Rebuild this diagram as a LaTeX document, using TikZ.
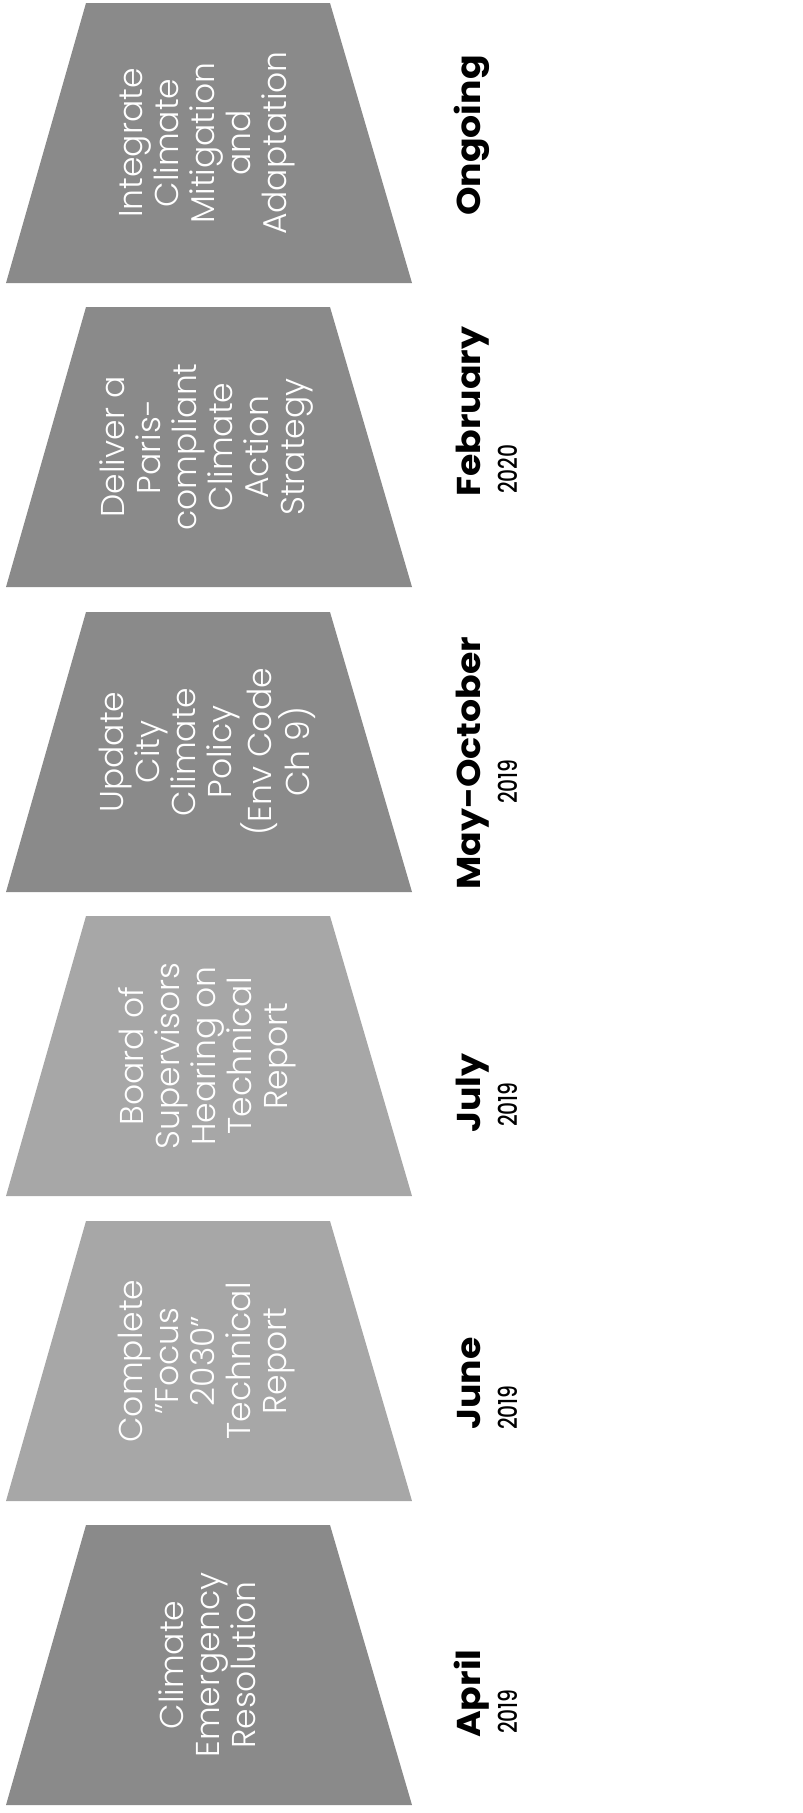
\documentclass[tikz,border=0pt]{standalone}
\usepackage{fontspec}
\newfontfamily\boxfont{Poppins Light}
\newfontfamily\monthfont{Poppins}[UprightFont=* Bold, FakeStretch=1.1]
\newfontfamily\yearfont{Poppins Medium}[FakeStretch=0.78]
\definecolor{darkbox}{HTML}{8A8A8A}
\definecolor{lightbox}{HTML}{A7A7A7}
\tikzset{
  boxtext/.style={rotate=90, align=center, text=white, inner sep=0pt,
    font=\boxfont\fontsize{33}{36}\selectfont},
  month/.style={rotate=90, anchor=base west, inner sep=0pt,
    font=\monthfont\fontsize{33}{35}\selectfont},
  year/.style={rotate=90, anchor=base west, inner sep=0pt,
    font=\yearfont\fontsize{26}{28}\selectfont},
}
\newcommand{\trap}[2]{%
  \fill[#2] (86,#1) -- (330,#1) -- (412,#1+280) -- (6,#1+280) -- cycle;}
\begin{document}
\begin{tikzpicture}[x=1pt,y=-1pt]
\useasboundingbox (0,0) rectangle (803,1813);
\trap{3}{darkbox}
\trap{307}{darkbox}
\trap{612}{darkbox}
\trap{916}{lightbox}
\trap{1221}{lightbox}
\trap{1525}{darkbox}
\node[boxtext] (t1) at (207,143) {Integrate\\Climate\\Mitigation\\and\\Adaptation};
\node[boxtext] (t2) at (207,447) {Deliver a\\Paris-\\compliant\\Climate\\Action\\Strategy};
\node[boxtext] (t3) at (207,752) {Update\\City\\Climate\\Policy\\(Env Code\\Ch 9)};
\node[boxtext] (t4) at (207,1056) {Board of\\Supervisors\\Hearing on\\Technical\\Report};
\node[boxtext] (t5) at (207,1361) {Complete\\”Focus\\2030”\\Technical\\Report};
\node[boxtext] (t6) at (207,1665) {Climate\\Emergency\\Resolution};
\node[month] (m1) at (480,216) {Ongoing};
\node[month] (m2) at (480,497) {February};
\node[year] (y2) at (517,494) {2020};
\node[month] (m3) at (480,890) {May-October};
\node[year] (y3) at (517,804) {2019};
\node[month] (m4) at (480,1133) {July};
\node[year] (y4) at (517,1127) {2019};
\node[month] (m5) at (480,1430) {June};
\node[year] (y5) at (517,1430) {2019};
\node[month] (m6) at (480,1738) {April};
\node[year] (y6) at (517,1734) {2019};
\end{tikzpicture}
\end{document}
